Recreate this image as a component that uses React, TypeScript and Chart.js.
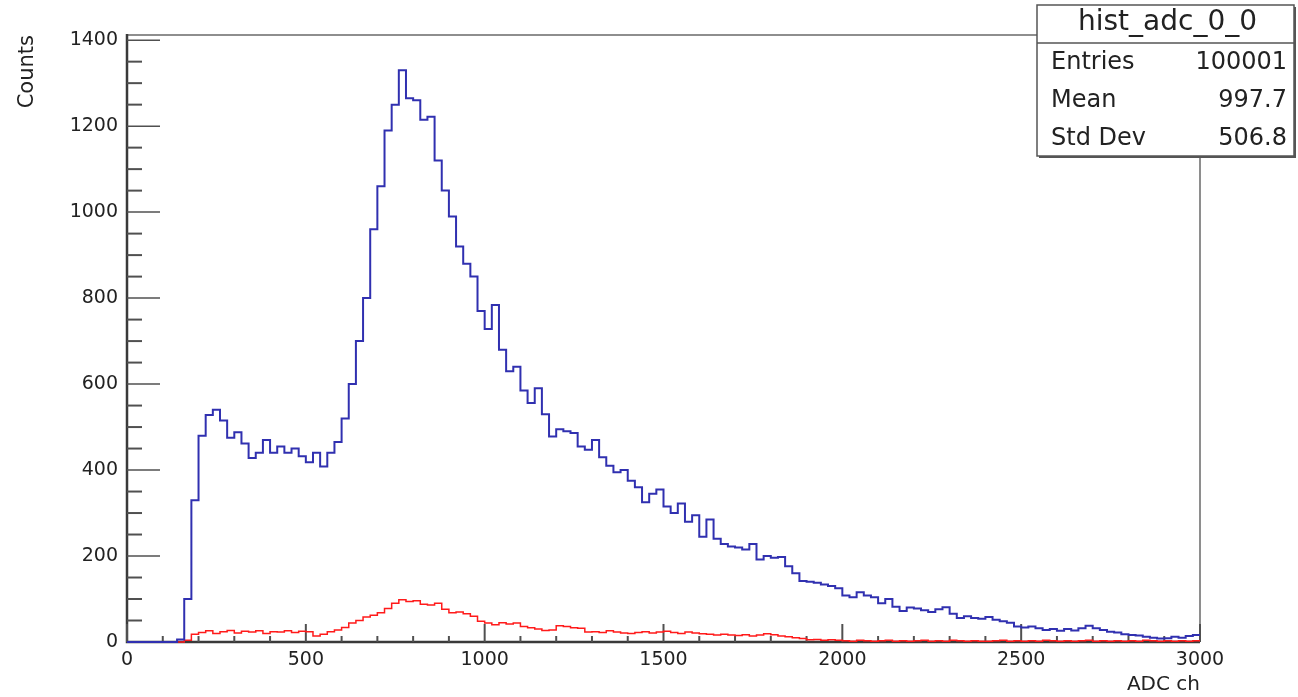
import React, { useEffect, useRef } from "react";
import { Chart, registerables } from "chart.js";

Chart.register(...registerables);

// ---- data ----
const BIN_WIDTH = 20;
const X_MIN = 0;
const X_MAX = 3000;
const Y_MIN = 0;
const Y_MAX = 1412;
const X_TICKS = [0, 500, 1000, 1500, 2000, 2500, 3000];
const Y_TICKS = [0, 200, 400, 600, 800, 1000, 1200, 1400];
const X_MINOR_STEP = 100;
const Y_MINOR_STEP = 50;

const BLUE_COUNTS = [
  0, 0, 0, 0, 0, 0, 0, 6, 100, 330,
  480, 528, 540, 515, 475, 488, 462, 428, 440, 470,
  440, 455, 440, 450, 432, 418, 440, 408, 440, 465,
  520, 600, 700, 800, 960, 1060, 1190, 1250, 1330, 1265,
  1260, 1215, 1222, 1120, 1050, 990, 920, 880, 850, 770,
  728, 784, 680, 630, 640, 585, 556, 590, 530, 478,
  495, 490, 486, 455, 447, 470, 430, 410, 395, 400,
  375, 360, 325, 345, 355, 315, 300, 322, 280, 295,
  245, 285, 240, 228, 222, 220, 215, 228, 192, 200,
  196, 198, 176, 160, 142, 140, 138, 134, 130, 125,
  108, 104, 116, 108, 104, 90, 100, 82, 72, 80,
  78, 74, 70, 76, 81, 66, 56, 60, 56, 54,
  58, 52, 48, 45, 36, 34, 36, 32, 28, 30,
  26, 30, 27, 32, 38, 32, 28, 24, 22, 18,
  16, 15, 12, 10, 8, 9, 12, 10, 14, 16,
];

const RED_COUNTS = [
  0, 0, 0, 0, 0, 0, 0, 0, 4, 18,
  22, 26, 20, 24, 27, 21, 25, 23, 26, 20,
  24, 23, 26, 22, 25, 24, 14, 18, 24, 28,
  34, 44, 50, 58, 62, 68, 78, 90, 98, 94,
  96, 88, 86, 90, 76, 68, 70, 66, 60, 48,
  44, 40, 45, 42, 44, 36, 33, 30, 27, 28,
  38, 36, 33, 32, 23, 24, 22, 26, 23, 21,
  20, 22, 24, 21, 23, 25, 22, 20, 23, 21,
  19, 18, 16, 18, 16, 15, 17, 14, 16, 19,
  17, 14, 12, 10, 8, 5, 6, 4, 5, 4,
  3, 2, 4, 3, 2, 3, 4, 2, 3, 2,
  3, 4, 2, 3, 2, 4, 3, 2, 3, 2,
  2, 3, 4, 2, 3, 2, 3, 2, 4, 3,
  2, 3, 2, 3, 4, 2, 3, 2, 3, 2,
  3, 2, 4, 3, 2, 3, 2, 3, 2, 3,
];

const STATS_TITLE = "hist_adc_0_0";
const STATS_LABELS = ["Entries", "Mean", "Std Dev"];
const STATS_VALUES = ["100001", "997.7", "506.8"];
const X_TITLE = "ADC ch";
const Y_TITLE = "Counts";

const FONT = "'DejaVu Sans', 'Liberation Sans', sans-serif";

function toSteps(counts: number[]) {
  const pts = counts.map((c, i) => ({ x: X_MIN + i * BIN_WIDTH, y: c }));
  pts.push({ x: X_MIN + counts.length * BIN_WIDTH, y: counts[counts.length - 1] });
  return pts;
}

function range(a: number, b: number, step: number) {
  const out: number[] = [];
  for (let v = a; v <= b + 1e-9; v += step) out.push(v);
  return out;
}

const rootFrame = {
  id: "rootFrame",
  beforeDatasetsDraw(chart: any) {
    const { ctx, chartArea: a, scales } = chart;
    const xs = scales.x;
    const ys = scales.y;
    ctx.save();
    // frame top & right
    ctx.strokeStyle = "#6a6a6a";
    ctx.lineWidth = 1.5;
    ctx.beginPath();
    ctx.moveTo(a.left, a.top);
    ctx.lineTo(a.right, a.top);
    ctx.lineTo(a.right, a.bottom);
    ctx.stroke();
    // axes
    ctx.strokeStyle = "#3a3a3a";
    ctx.lineWidth = 2.5;
    ctx.beginPath();
    ctx.moveTo(a.left, a.top - 1);
    ctx.lineTo(a.left, a.bottom);
    ctx.lineTo(a.right, a.bottom);
    ctx.stroke();
    // y ticks (inside)
    ctx.strokeStyle = "#505050";
    for (const v of range(Y_MIN, Y_MAX, Y_MINOR_STEP)) {
      const py = ys.getPixelForValue(v);
      const major = Y_TICKS.includes(v);
      ctx.lineWidth = major ? 1.5 : 2;
      ctx.beginPath();
      ctx.moveTo(a.left, py);
      ctx.lineTo(a.left + (major ? 33 : 15), py);
      ctx.stroke();
    }
    // x ticks (inside)
    ctx.lineWidth = 2;
    for (const v of range(X_MIN, X_MAX, X_MINOR_STEP)) {
      const px = xs.getPixelForValue(v);
      const major = X_TICKS.includes(v);
      ctx.beginPath();
      ctx.moveTo(px, a.bottom);
      ctx.lineTo(px, a.bottom - (major ? 18 : 6));
      ctx.stroke();
    }
    ctx.restore();
  },
  afterDraw(chart: any) {
    const { ctx } = chart;
    const bx = 1037, by = 5, bw = 257, bh = 151, titleH = 38;
    ctx.save();
    // shadow
    ctx.fillStyle = "#555";
    ctx.fillRect(bx + 2, by + 2, bw, bh);
    ctx.fillStyle = "#fff";
    ctx.fillRect(bx, by, bw, bh);
    ctx.strokeStyle = "#555";
    ctx.lineWidth = 1.5;
    ctx.strokeRect(bx, by, bw, bh);
    ctx.beginPath();
    ctx.moveTo(bx, by + titleH);
    ctx.lineTo(bx + bw, by + titleH);
    ctx.stroke();
    ctx.fillStyle = "#222";
    ctx.textBaseline = "middle";
    ctx.font = `28px ${FONT}`;
    ctx.textAlign = "center";
    ctx.fillText(STATS_TITLE, bx + bw / 2 + 2, by + 18);
    ctx.font = `24px ${FONT}`;
    const rowY = [63, 101, 139];
    STATS_LABELS.forEach((lab, i) => {
      ctx.textAlign = "left";
      ctx.fillText(lab, bx + 14, rowY[i]);
      ctx.textAlign = "right";
      ctx.fillText(STATS_VALUES[i], bx + bw - 7, rowY[i]);
    });
    ctx.restore();
  },
};

export default function App() {
  const ref = useRef<HTMLCanvasElement | null>(null);

  useEffect(() => {
    if (!ref.current) return;
    const chart = new Chart(ref.current, {
      type: "line",
      data: {
        datasets: [
          {
            label: "hist_adc_0_0",
            data: toSteps(BLUE_COUNTS),
            borderColor: "#3030b0",
            borderWidth: 2,
            stepped: true,
            pointRadius: 0,
            fill: false,
            clip: 6,
          } as any,
          {
            label: "red",
            data: toSteps(RED_COUNTS),
            borderColor: "#ff1a1a",
            borderWidth: 1.5,
            stepped: true,
            pointRadius: 0,
            fill: false,
            clip: 6,
          } as any,
        ],
      },
      options: {
        animation: false,
        responsive: false,
        events: [],
        layout: { padding: { left: 15, top: 35, right: 98, bottom: 0 } },
        plugins: {
          legend: { display: false },
          tooltip: { enabled: false },
          title: { display: false },
        },
        scales: {
          x: {
            type: "linear",
            min: X_MIN,
            max: X_MAX,
            afterBuildTicks: (s: any) => {
              s.ticks = X_TICKS.map((v) => ({ value: v }));
            },
            afterFit: (s: any) => {
              s.height = 55;
            },
            grid: { display: false, drawTicks: false },
            border: { display: false },
            ticks: {
              autoSkip: false,
              maxRotation: 0,
              padding: 7,
              color: "#222",
              font: { family: FONT, size: 19 },
              callback: (v: any) => String(v),
            },
            title: {
              display: true,
              text: X_TITLE,
              align: "end",
              padding: 0,
              color: "#222",
              font: { family: FONT, size: 20 },
            },
          },
          y: {
            type: "linear",
            min: Y_MIN,
            max: Y_MAX,
            afterBuildTicks: (s: any) => {
              s.ticks = Y_TICKS.map((v) => ({ value: v }));
            },
            afterFit: (s: any) => {
              s.width = 112;
            },
            grid: { display: false, drawTicks: false },
            border: { display: false },
            ticks: {
              padding: 9,
              color: "#222",
              font: { family: FONT, size: 19 },
              callback: (v: any) => String(v),
            },
            title: {
              display: true,
              text: Y_TITLE,
              align: "end",
              padding: 0,
              color: "#222",
              font: { family: FONT, size: 21 },
            },
          },
        },
      },
      plugins: [rootFrame],
    } as any);
    return () => chart.destroy();
  }, []);

  return (
    <canvas
      ref={ref}
      width={1298}
      height={697}
      style={{ position: "fixed", left: 0, top: 0, width: 1298, height: 697, display: "block", background: "#fff" }}
    />
  );
}
